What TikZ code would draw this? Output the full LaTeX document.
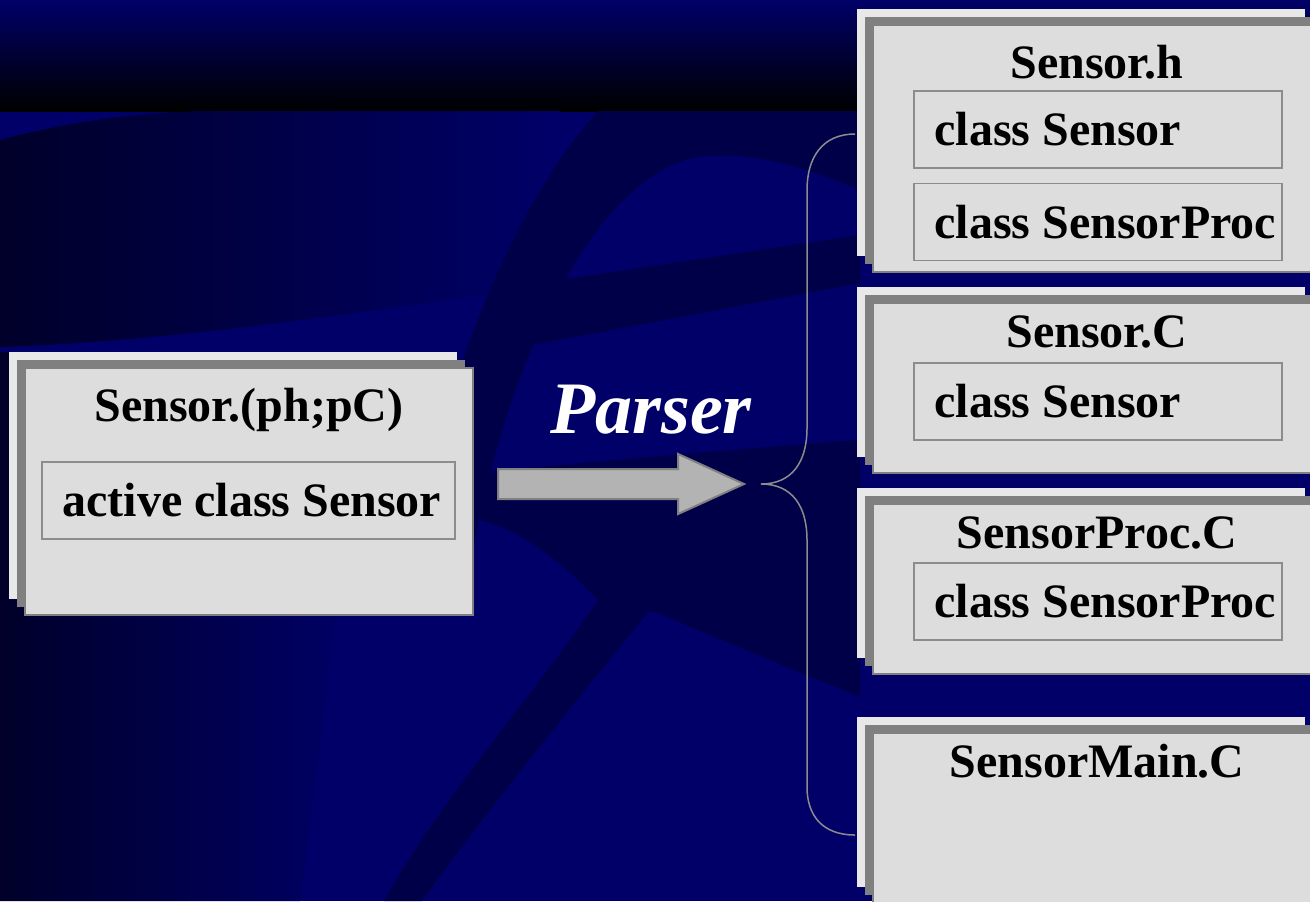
\documentclass[tikz,border=0pt]{standalone}
\usepackage{fontspec}
\setmainfont{Liberation Serif}
\usetikzlibrary{shapes.arrows, positioning, shadows}

\definecolor{deepnavy}{RGB}{0,0,104}
\definecolor{bandblue}{RGB}{0,0,72}
\definecolor{nightblue}{RGB}{0,0,42}
\definecolor{sheetgray}{RGB}{221,221,221}
\definecolor{sheetlight}{RGB}{232,232,232}
\definecolor{sheetmid}{RGB}{128,128,128}
\definecolor{edgegray}{RGB}{140,140,140}
\definecolor{arrowgray}{RGB}{179,179,179}

\begin{document}
\begin{tikzpicture}[
	x=0.5pt, y=-0.5pt,
	srcfile/.style={rectangle, fill=sheetgray, draw=sheetmid, line width=1pt, inner sep=0pt, minimum width=224pt,
		copy shadow={shadow xshift=-8pt, shadow yshift=8pt, fill=sheetlight, draw=none},
		copy shadow={shadow xshift=-4pt, shadow yshift=4pt, fill=sheetmid, draw=none}},
	filetitle/.style={font=\fontsize{24}{28}\selectfont\bfseries, inner sep=0pt},
	classslot/.style={rectangle, fill=sheetgray, draw=edgegray, line width=0.75pt, inner sep=0pt, minimum width=184pt, minimum height=38.5pt},
	slottext/.style={font=\fontsize{24}{28}\selectfont\bfseries, inner sep=0pt},
	parsearrow/.style={single arrow, single arrow head extend=7.5pt, single arrow tip angle=49, minimum height=123pt, inner sep=7pt, fill=arrowgray, draw=sheetmid, line width=1pt},
	parselabel/.style={font=\fontsize{37}{42}\selectfont\bfseries\itshape, text=white, inner sep=0pt},
	bracelink/.style={draw=edgegray, line width=0.75pt}
	]
	\useasboundingbox (0,0) rectangle (1310,901);
	\clip (0,0) rectangle (1310,901);
	\fill[deepnavy] (0,0) rectangle (1310,901);
	\shade[top color=deepnavy, bottom color=black] (0,0) rectangle (1310,111);
	\shade[left color=nightblue, right color=deepnavy] (0,140) .. controls (60,124) and (120,114) .. (200,111) -- (560,111) -- (560,285) .. controls (400,305) and (200,340) .. (0,347) -- cycle;
	\shade[left color=nightblue, right color=deepnavy] (0,352) -- (360,352) .. controls (340,600) and (320,750) .. (300,901) -- (0,901) -- cycle;
	\fill[bandblue] (598,111) -- (860,111) -- (860,190) .. controls (800,165) and (745,150) .. (697,157) .. controls (600,175) and (500,350) .. (462,615) -- (400,615) .. controls (430,420) and (500,220) .. (598,111) -- cycle;
	\fill[bandblue] (500,289) -- (860,235) -- (860,283) -- (500,351) -- cycle;
	\fill[bandblue] (480,472) .. controls (600,462) and (720,450) .. (860,440) -- (860,697) .. controls (790,668) and (720,640) .. (658,613) -- (598,600) .. controls (560,560) and (520,530) .. (480,520) -- cycle;
	\fill[bandblue] (598,600) -- (658,600) .. controls (560,720) and (480,820) .. (422,901) -- (384,901) .. controls (440,800) and (530,700) .. (598,600) -- cycle;
	\node[srcfile, minimum height=123.5pt] (lfile) at (249,491.5) {};
	\node[filetitle, anchor=base] (ltitle) at ([yshift=-27pt]lfile.north) {Sensor.(ph;pC)};
	\node[classslot, minimum width=206.5pt, anchor=north west] (lslot) at ([xshift=8.5pt,yshift=-47pt]lfile.north west) {};
	\node[slottext, anchor=west] (lclass) at ([xshift=10.5pt]lslot.west) {active class Sensor};
	\node[srcfile, minimum height=123.5pt] (hfile) at (1097,148.5) {};
	\node[srcfile, minimum height=85pt, below=14.5pt of hfile] (cfile) {};
	\node[srcfile, minimum height=85pt, below=14.5pt of cfile] (pfile) {};
	\node[srcfile, minimum height=85pt, below=28.5pt of pfile] (mfile) {};
	\node[filetitle, anchor=base] (htitle) at ([yshift=-27pt]hfile.north) {Sensor.h};
	\node[filetitle, anchor=base] (ctitle) at ([yshift=-22.5pt]cfile.north) {Sensor.C};
	\node[filetitle, anchor=base] (ptitle) at ([yshift=-22.5pt]pfile.north) {SensorProc.C};
	\node[filetitle, anchor=base] (mtitle) at ([yshift=-22.5pt]mfile.north) {SensorMain.C};
	\node[classslot, anchor=north west] (hslot1) at ([xshift=20.5pt,yshift=-33pt]hfile.north west) {};
	\node[classslot, below=7pt of hslot1] (hslot2) {};
	\node[classslot, anchor=north west] (cslot) at ([xshift=20.5pt,yshift=-30pt]cfile.north west) {};
	\node[classslot, anchor=north west] (pslot) at ([xshift=20.5pt,yshift=-29.5pt]pfile.north west) {};
	\node[slottext, anchor=west] (hclass1) at ([xshift=10.5pt]hslot1.west) {class Sensor};
	\node[slottext, anchor=west] (hclass2) at ([xshift=10.5pt]hslot2.west) {class SensorProc};
	\node[slottext, anchor=west] (cclass) at ([xshift=10.5pt]cslot.west) {class Sensor};
	\node[slottext, anchor=west] (pclass) at ([xshift=10.5pt]pslot.west) {class SensorProc};
	\node[parsearrow, anchor=tail] (parse) at (497,484) {};
	\node[parselabel, anchor=base] (parser) at (651,433) {Parser};
	\coordinate (btop) at (855,134);
	\coordinate (btip) at (761,484);
	\coordinate (bbot) at (855,835);
	\draw[bracelink] (btop) .. controls (822,134) and (807,158) .. (807,190) -- (807,428) .. controls (807,462) and (792,484) .. (btip) .. controls (792,484) and (807,506) .. (807,540) -- (807,787) .. controls (807,815) and (822,835) .. (bbot);
\end{tikzpicture}
\end{document}
